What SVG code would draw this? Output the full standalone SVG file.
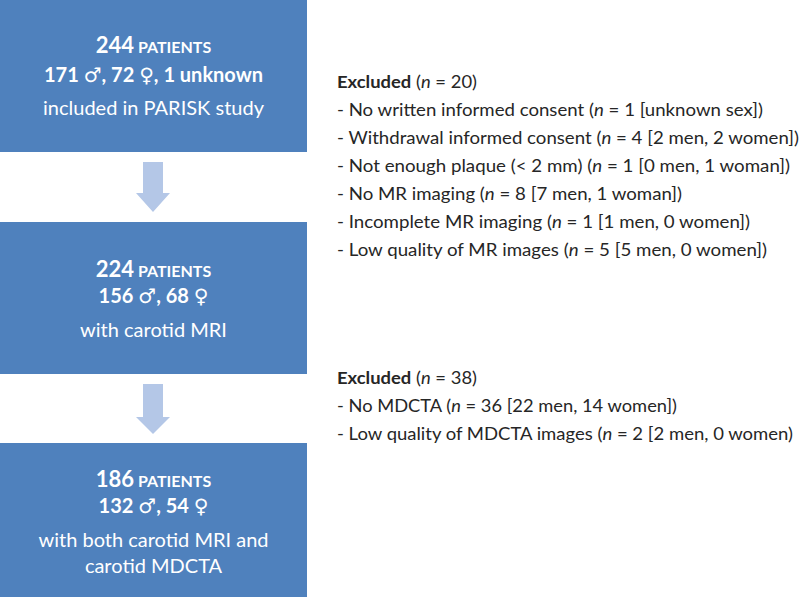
<svg xmlns="http://www.w3.org/2000/svg" width="800" height="597" viewBox="0 0 800 597">
<style>
.box{fill:#4f81bd}
.arrow{fill:#b4c7e7}
.bt{font-family:Lato,"Open Sans","Liberation Sans",sans-serif;fill:#ffffff;text-anchor:middle}
.big{font-size:22px;font-weight:bold}
.sm{font-size:16px;font-weight:bold}
.mid{font-size:20px;font-weight:bold}
.reg{font-size:20px;font-weight:normal}
.sym{font-family:"DejaVu Sans",sans-serif;font-weight:normal;font-size:20px}
.rt{font-family:Lato,"Open Sans","Liberation Sans",sans-serif;font-size:17.5px;fill:#262626}
.b{font-weight:bold}
.i{font-style:italic}
</style>
<rect width="800" height="597" fill="#ffffff"/>
<g id="connectors">
<polygon class="arrow" points="143,162 163,162 163,193 170,193 153,212 136,193 143,193"/>
<polygon class="arrow" points="143,384 163,384 163,417 170,417 153,434 136,417 143,417"/>
</g>
<g id="node-244">
<rect class="box" x="0" y="0" width="307" height="152"/>
<text class="bt" x="153.5" y="53"><tspan class="big">244</tspan><tspan class="sm"> PATIENTS</tspan></text>
<text class="bt mid" x="153.5" y="82">171 <tspan class="sym">♂</tspan>, 72 <tspan class="sym">♀</tspan>, 1 unknown</text>
<text class="bt reg" x="153.5" y="115">included in PARISK study</text>
</g>
<g id="node-224">
<rect class="box" x="0" y="222" width="307" height="152"/>
<text class="bt" x="153.5" y="277"><tspan class="big">224</tspan><tspan class="sm"> PATIENTS</tspan></text>
<text class="bt mid" x="153.5" y="303">156 <tspan class="sym">♂</tspan>, 68 <tspan class="sym">♀</tspan></text>
<text class="bt reg" x="153.5" y="337">with carotid MRI</text>
</g>
<g id="node-186">
<rect class="box" x="0" y="443" width="307" height="154"/>
<text class="bt" x="153.5" y="487"><tspan class="big">186</tspan><tspan class="sm"> PATIENTS</tspan></text>
<text class="bt mid" x="153.5" y="513">132 <tspan class="sym">♂</tspan>, 54 <tspan class="sym">♀</tspan></text>
<text class="bt reg" x="153.5" y="547">with both carotid MRI and</text>
<text class="bt reg" x="153.5" y="573">carotid MDCTA</text>
</g>
<g id="excluded-1">
<text class="rt" x="337" y="87.5" textLength="140" lengthAdjust="spacingAndGlyphs"><tspan class="b">Excluded</tspan> (<tspan class="i">n</tspan> = 20)</text>
<text class="rt" x="337" y="115.5" textLength="426" lengthAdjust="spacingAndGlyphs">- No written informed consent (<tspan class="i">n</tspan> = 1 [unknown sex])</text>
<text class="rt" x="337" y="143.5" textLength="462" lengthAdjust="spacingAndGlyphs">- Withdrawal informed consent (<tspan class="i">n</tspan> = 4 [2 men, 2 women])</text>
<text class="rt" x="337" y="171.5" textLength="453" lengthAdjust="spacingAndGlyphs">- Not enough plaque (&lt; 2 mm) (<tspan class="i">n</tspan> = 1 [0 men, 1 woman])</text>
<text class="rt" x="337" y="199.5" textLength="345" lengthAdjust="spacingAndGlyphs">- No MR imaging (<tspan class="i">n</tspan> = 8 [7 men, 1 woman])</text>
<text class="rt" x="337" y="227.5" textLength="413" lengthAdjust="spacingAndGlyphs">- Incomplete MR imaging (<tspan class="i">n</tspan> = 1 [1 men, 0 women])</text>
<text class="rt" x="337" y="255.5" textLength="430" lengthAdjust="spacingAndGlyphs">- Low quality of MR images (<tspan class="i">n</tspan> = 5 [5 men, 0 women])</text>
</g>
<g id="excluded-2">
<text class="rt" x="337" y="384" textLength="140" lengthAdjust="spacingAndGlyphs"><tspan class="b">Excluded</tspan> (<tspan class="i">n</tspan> = 38)</text>
<text class="rt" x="337" y="412" textLength="340" lengthAdjust="spacingAndGlyphs">- No MDCTA (<tspan class="i">n</tspan> = 36 [22 men, 14 women])</text>
<text class="rt" x="337" y="440" textLength="456" lengthAdjust="spacingAndGlyphs">- Low quality of MDCTA images (<tspan class="i">n</tspan> = 2 [2 men, 0 women)</text>
</g>
</svg>
